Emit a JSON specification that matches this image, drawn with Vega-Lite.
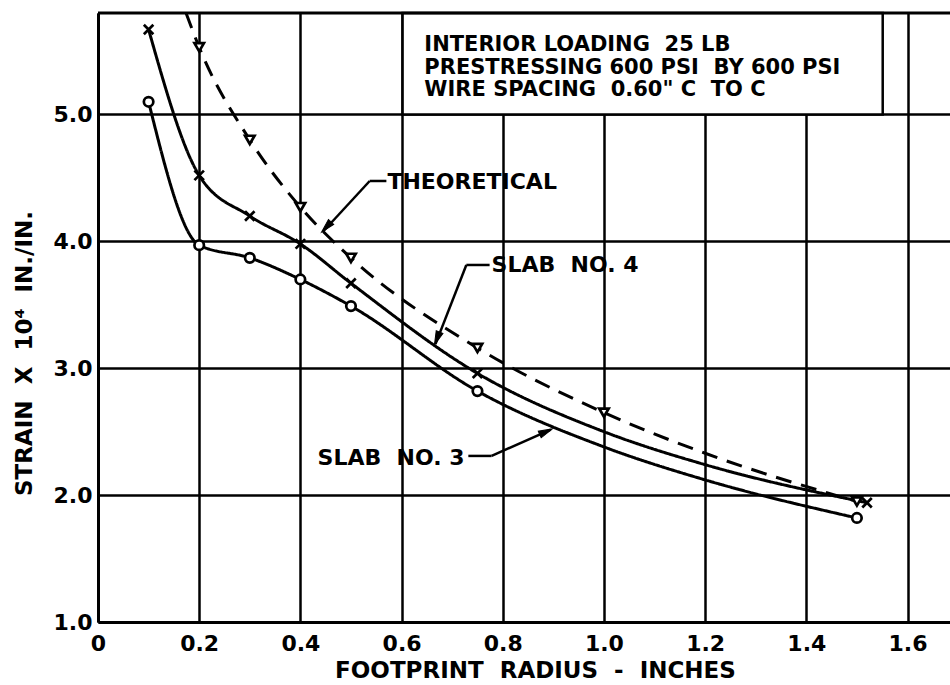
{
  "$schema": "https://vega.github.io/schema/vega-lite/v6.json",
  "width": 852,
  "height": 609,
  "autosize": {"type": "none"},
  "padding": {"left": 98, "top": 13, "right": 0, "bottom": 63},
  "background": "white",
  "config": {
    "view": {"stroke": null},
    "font": "DejaVu Sans",
    "axis": {
      "labelFont": "DejaVu Sans",
      "labelFontWeight": "bold",
      "labelFontSize": 22,
      "labelColor": "black",
      "titleFont": "DejaVu Sans",
      "titleFontWeight": "bold",
      "titleFontSize": 23,
      "titleColor": "black",
      "domainColor": "black",
      "domainWidth": 3,
      "gridColor": "black",
      "gridWidth": 2.5,
      "gridOpacity": 1,
      "ticks": false,
      "tickSize": 0
    }
  },
  "datasets": {
    "curves": [
      {"series": "Slab 3", "x": 0.1, "y": 5.1, "marker": true},
      {"series": "Slab 3", "x": 0.2, "y": 3.97, "marker": true},
      {"series": "Slab 3", "x": 0.3, "y": 3.87, "marker": true},
      {"series": "Slab 3", "x": 0.4, "y": 3.7, "marker": true},
      {"series": "Slab 3", "x": 0.5, "y": 3.49, "marker": true},
      {"series": "Slab 3", "x": 0.75, "y": 2.82, "marker": true},
      {"series": "Slab 3", "x": 1.0, "y": 2.38, "marker": false},
      {"series": "Slab 3", "x": 1.2, "y": 2.12, "marker": false},
      {"series": "Slab 3", "x": 1.5, "y": 1.82, "marker": true},
      {"series": "Slab 4", "x": 0.1, "y": 5.67, "marker": true},
      {"series": "Slab 4", "x": 0.2, "y": 4.52, "marker": true},
      {"series": "Slab 4", "x": 0.3, "y": 4.2, "marker": true},
      {"series": "Slab 4", "x": 0.4, "y": 3.98, "marker": true},
      {"series": "Slab 4", "x": 0.5, "y": 3.67, "marker": true},
      {"series": "Slab 4", "x": 0.75, "y": 2.96, "marker": true},
      {"series": "Slab 4", "x": 1.0, "y": 2.5, "marker": false},
      {"series": "Slab 4", "x": 1.2, "y": 2.24, "marker": false},
      {"series": "Slab 4", "x": 1.52, "y": 1.94, "marker": true},
      {"series": "Theoretical", "x": 0.174, "y": 5.8, "marker": false},
      {"series": "Theoretical", "x": 0.2, "y": 5.53, "marker": true},
      {"series": "Theoretical", "x": 0.3, "y": 4.8, "marker": true},
      {"series": "Theoretical", "x": 0.4, "y": 4.27, "marker": true},
      {"series": "Theoretical", "x": 0.5, "y": 3.87, "marker": true},
      {"series": "Theoretical", "x": 0.75, "y": 3.16, "marker": true},
      {"series": "Theoretical", "x": 1.0, "y": 2.65, "marker": true},
      {"series": "Theoretical", "x": 1.2, "y": 2.33, "marker": false},
      {"series": "Theoretical", "x": 1.5, "y": 1.95, "marker": true}
    ],
    "box": [{"x": 0.602, "x2": 1.551, "y": 5.0, "y2": 5.8}],
    "boxText": [
      {"x": 0.645, "y": 5.55, "text": "INTERIOR LOADING\u00a0 25 LB"},
      {"x": 0.645, "y": 5.37, "text": "PRESTRESSING 600 PSI\u00a0 BY 600 PSI"},
      {"x": 0.645, "y": 5.19, "text": "WIRE SPACING\u00a0 0.60\" C\u00a0 TO C"}
    ],
    "labels": [
      {"x": 0.572, "y": 4.468, "text": "THEORETICAL"},
      {"x": 0.778, "y": 3.814, "text": "SLAB\u00a0 NO.\u00a04"},
      {"x": 0.434, "y": 2.293, "text": "SLAB\u00a0 NO. 3"}
    ],
    "leaders": [
      {"x": 0.537, "y": 4.476, "x2": 0.570, "y2": 4.476},
      {"x": 0.537, "y": 4.476, "x2": 0.445, "y2": 4.078},
      {"x": 0.728, "y": 3.814, "x2": 0.774, "y2": 3.814},
      {"x": 0.728, "y": 3.814, "x2": 0.667, "y2": 3.19},
      {"x": 0.732, "y": 2.309, "x2": 0.778, "y2": 2.309},
      {"x": 0.778, "y": 2.309, "x2": 0.895, "y2": 2.517}
    ],
    "arrows": [
      {"label": "THEORETICAL", "x": 0.442, "y": 4.074},
      {"label": "SLAB NO. 4", "x": 0.665, "y": 3.184},
      {"label": "SLAB NO. 3", "x": 0.898, "y": 2.522}
    ]
  },
  "encoding": {
    "x": {
      "field": "x",
      "type": "quantitative",
      "scale": {"domain": [0, 1.684], "nice": false, "zero": false},
      "axis": {
        "values": [0, 0.2, 0.4, 0.6, 0.8, 1.0, 1.2, 1.4, 1.6],
        "grid": true,
        "labelExpr": "datum.value == 0 ? '0' : format(datum.value, '.1f')",
        "labelPadding": 11,
        "labelBaseline": "top",
        "labelFlush": false,
        "title": "FOOTPRINT\u00a0 RADIUS\u00a0 -\u00a0 INCHES",
        "titleX": 437,
        "titleY": 48,
        "titleBaseline": "middle",
        "titleAlign": "center",
        "titlePadding": 0
      }
    },
    "y": {
      "field": "y",
      "type": "quantitative",
      "scale": {"domain": [1, 5.8], "nice": false, "zero": false},
      "axis": {
        "values": [1, 2, 3, 4, 5],
        "grid": true,
        "format": ".1f",
        "labelPadding": 6,
        "labelBaseline": "middle",
        "labelFlush": false,
        "title": "STRAIN\u00a0 X\u00a0 10⁴\u00a0 IN./IN.",
        "titleX": -74,
        "titleY": 340,
        "titleAngle": 270,
        "titleBaseline": "middle",
        "titleAlign": "center"
      }
    }
  },
  "layer": [
    {
      "data": {"name": "box"},
      "mark": {"type": "rect", "fill": "white", "stroke": "black", "strokeWidth": 2.5},
      "encoding": {
        "x2": {"field": "x2"},
        "y2": {"field": "y2"}
      }
    },
    {
      "data": {"name": "box"},
      "mark": {"type": "rule", "stroke": "black", "strokeWidth": 3},
      "encoding": {
        "x": {"datum": 0},
        "x2": {"datum": 1.684},
        "y": {"datum": 5.8}
      }
    },
    {
      "data": {"name": "curves"},
      "mark": {"type": "line", "interpolate": "monotone", "stroke": "black", "strokeWidth": 3},
      "encoding": {
        "detail": {"field": "series"},
        "strokeDash": {
          "field": "series",
          "type": "nominal",
          "scale": {"domain": ["Slab 3", "Slab 4", "Theoretical"], "range": [[1, 0], [1, 0], [16, 10]]},
          "legend": null
        }
      }
    },
    {
      "data": {"name": "curves"},
      "transform": [{"filter": "datum.marker"}],
      "mark": {"type": "point", "filled": true, "fill": "white", "stroke": "black", "strokeWidth": 2.7, "opacity": 1, "size": 90},
      "encoding": {
        "shape": {
          "field": "series",
          "type": "nominal",
          "scale": {"domain": ["Slab 3", "Slab 4", "Theoretical"], "range": ["circle", "M-1,-1L1,1M-1,1L1,-1", "triangle-down"]},
          "legend": null
        }
      }
    },
    {
      "data": {"name": "leaders"},
      "mark": {"type": "rule", "stroke": "black", "strokeWidth": 2.5},
      "encoding": {
        "x2": {"field": "x2"},
        "y2": {"field": "y2"}
      }
    },
    {
      "data": {"name": "arrows"},
      "transform": [{"filter": "datum.label == 'THEORETICAL'"}],
      "mark": {"type": "point", "shape": "M0,0L0.6,2.3L-0.6,2.3Z", "filled": true, "fill": "black", "stroke": "black", "strokeWidth": 1, "opacity": 1, "size": 144, "angle": 223.3}
    },
    {
      "data": {"name": "arrows"},
      "transform": [{"filter": "datum.label == 'SLAB NO. 4'"}],
      "mark": {"type": "point", "shape": "M0,0L0.6,2.3L-0.6,2.3Z", "filled": true, "fill": "black", "stroke": "black", "strokeWidth": 1, "opacity": 1, "size": 144, "angle": 201.8}
    },
    {
      "data": {"name": "arrows"},
      "transform": [{"filter": "datum.label == 'SLAB NO. 3'"}],
      "mark": {"type": "point", "shape": "M0,0L0.6,2.3L-0.6,2.3Z", "filled": true, "fill": "black", "stroke": "black", "strokeWidth": 1, "opacity": 1, "size": 144, "angle": 66.1}
    },
    {
      "data": {"name": "boxText"},
      "mark": {"type": "text", "align": "left", "baseline": "middle", "font": "DejaVu Sans", "fontWeight": "bold", "fontSize": 21, "color": "black"},
      "encoding": {"text": {"field": "text"}}
    },
    {
      "data": {"name": "labels"},
      "mark": {"type": "text", "align": "left", "baseline": "middle", "font": "DejaVu Sans", "fontWeight": "bold", "fontSize": 22, "color": "black"},
      "encoding": {"text": {"field": "text"}}
    }
  ]
}
